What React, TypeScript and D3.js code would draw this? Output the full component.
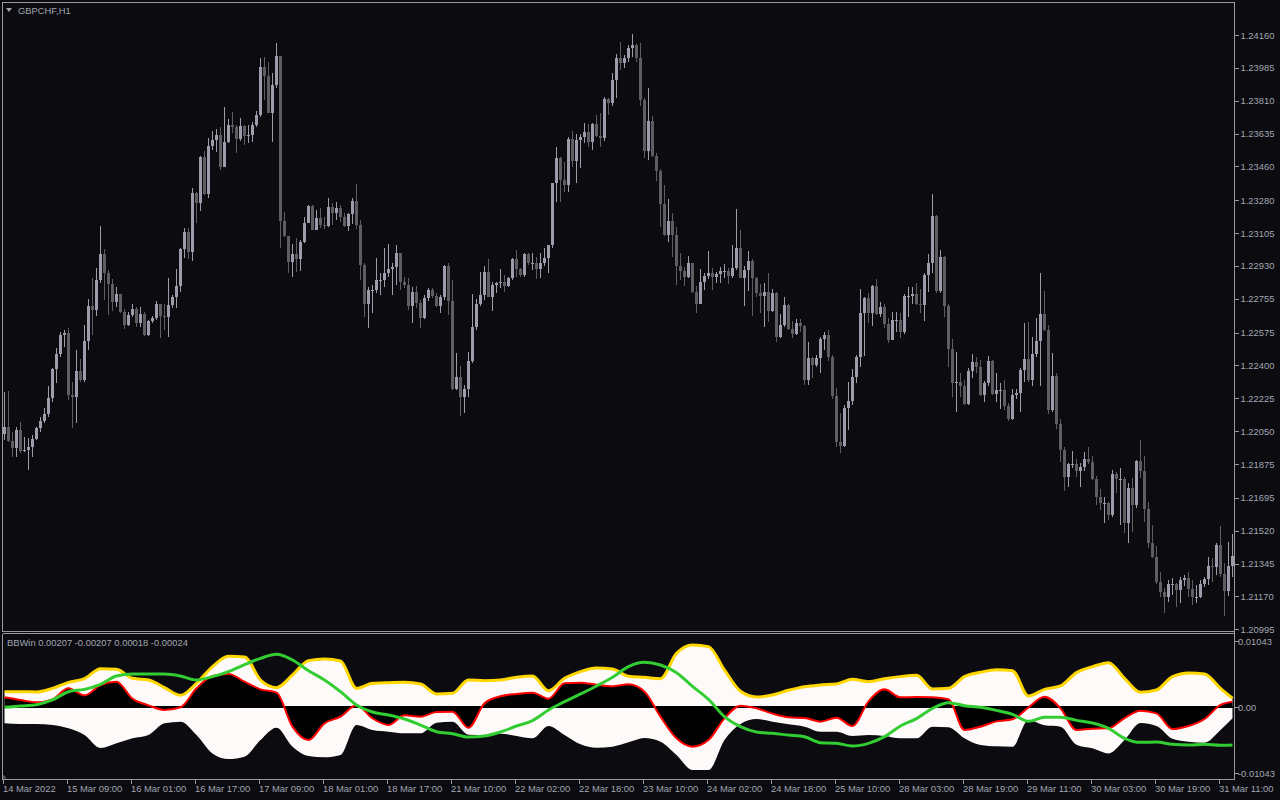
import React from 'react';
import * as d3 from 'd3';

// ---------------- DATA ----------------
const symbolTitle = 'GBPCHF,H1';
const indicatorTitle = 'BBWin 0.00207 -0.00207 0.00018 -0.00024';

const firstOpen = 1.22035;

const close = [
  1.22072, 1.21998, 1.21960, 1.22056, 1.21945, 1.21950, 1.21966, 1.22008, 1.22067, 1.22104,
  1.22141, 1.22226, 1.22381, 1.22460, 1.22561, 1.22572, 1.22242, 1.22231, 1.22370, 1.22322,
  1.22530, 1.22716, 1.22695, 1.22855, 1.22993, 1.22892, 1.22834, 1.22737, 1.22780, 1.22684,
  1.22615, 1.22668, 1.22700, 1.22625, 1.22673, 1.22561, 1.22636, 1.22652, 1.22727, 1.22663,
  1.22657, 1.22721, 1.22764, 1.22823, 1.23020, 1.23110, 1.23004, 1.23318, 1.23265, 1.23510,
  1.23312, 1.23568, 1.23600, 1.23626, 1.23456, 1.23589, 1.23680, 1.23669, 1.23605, 1.23674,
  1.23621, 1.23626, 1.23680, 1.23733, 1.23989, 1.23941, 1.23744, 1.23893, 1.24048, 1.23169,
  1.23089, 1.22951, 1.22993, 1.22967, 1.23057, 1.23158, 1.23249, 1.23121, 1.23185, 1.23148,
  1.23142, 1.23244, 1.23212, 1.23238, 1.23190, 1.23142, 1.23206, 1.23276, 1.23148, 1.22935,
  1.22727, 1.22802, 1.22802, 1.22855, 1.22855, 1.22892, 1.22914, 1.22924, 1.22999, 1.22844,
  1.22828, 1.22716, 1.22791, 1.22732, 1.22652, 1.22759, 1.22802, 1.22770, 1.22716, 1.22764,
  1.22930, 1.22743, 1.22274, 1.22338, 1.22231, 1.22274, 1.22423, 1.22604, 1.22727, 1.22775,
  1.22897, 1.22764, 1.22828, 1.22839, 1.22844, 1.22823, 1.22866, 1.22967, 1.22914, 1.22882,
  1.22993, 1.22946, 1.22946, 1.22914, 1.22946, 1.22972, 1.23041, 1.23371, 1.23504, 1.23387,
  1.23360, 1.23605, 1.23488, 1.23600, 1.23616, 1.23642, 1.23589, 1.23685, 1.23621, 1.23611,
  1.23819, 1.23797, 1.23920, 1.24037, 1.24011, 1.24037, 1.24090, 1.24106, 1.24037, 1.23813,
  1.23542, 1.23701, 1.23515, 1.23435, 1.23260, 1.23094, 1.23169, 1.23094, 1.22930, 1.22903,
  1.22871, 1.22946, 1.22791, 1.22727, 1.22844, 1.22876, 1.22892, 1.22871, 1.22887, 1.22903,
  1.22903, 1.22876, 1.22919, 1.23025, 1.22866, 1.22908, 1.22956, 1.22866, 1.22786, 1.22770,
  1.22791, 1.22689, 1.22786, 1.22551, 1.22615, 1.22721, 1.22593, 1.22567, 1.22625, 1.22609,
  1.22322, 1.22439, 1.22402, 1.22439, 1.22540, 1.22561, 1.22445, 1.22237, 1.21992, 1.21971,
  1.22173, 1.22211, 1.22338, 1.22445, 1.22679, 1.22759, 1.22679, 1.22823, 1.22673, 1.22711,
  1.22620, 1.22535, 1.22641, 1.22641, 1.22577, 1.22770, 1.22770, 1.22780, 1.22727, 1.22721,
  1.22882, 1.22946, 1.23196, 1.22797, 1.22978, 1.22716, 1.22487, 1.22306, 1.22311, 1.22290,
  1.22195, 1.22370, 1.22418, 1.22391, 1.22242, 1.22306, 1.22423, 1.22247, 1.22269, 1.22269,
  1.22184, 1.22115, 1.22242, 1.22253, 1.22375, 1.22434, 1.22322, 1.22460, 1.22530, 1.22673,
  1.22588, 1.22163, 1.22343, 1.22088, 1.21950, 1.21806, 1.21875, 1.21875, 1.21838, 1.21859,
  1.21902, 1.21886, 1.21795, 1.21699, 1.21667, 1.21667, 1.21603, 1.21822, 1.21795, 1.21795,
  1.21560, 1.21747, 1.21656, 1.21891, 1.21838, 1.21635, 1.21454, 1.21380, 1.21246, 1.21193,
  1.21166, 1.21236, 1.21236, 1.21204, 1.21257, 1.21268, 1.21209, 1.21166, 1.21166, 1.21236,
  1.21262, 1.21332, 1.21326, 1.21443, 1.21289, 1.21199, 1.21332, 1.21385,
];

const high = [
  1.22258, 1.22264, 1.22045, 1.22072, 1.22099, 1.22019, 1.22014, 1.22029, 1.22072, 1.22125,
  1.22173, 1.22290, 1.22386, 1.22492, 1.22577, 1.22588, 1.22599, 1.22311, 1.22482, 1.22434,
  1.22615, 1.22754, 1.22866, 1.22919, 1.23142, 1.23020, 1.22908, 1.22860, 1.22818, 1.22780,
  1.22700, 1.22684, 1.22727, 1.22711, 1.22711, 1.22684, 1.22641, 1.22663, 1.22743, 1.22721,
  1.22727, 1.22866, 1.22775, 1.22914, 1.23025, 1.23132, 1.23132, 1.23344, 1.23323, 1.23515,
  1.23542, 1.23611, 1.23648, 1.23658, 1.23669, 1.23776, 1.23712, 1.23749, 1.23680, 1.23717,
  1.23680, 1.23680, 1.23696, 1.23754, 1.24037, 1.24043, 1.24016, 1.23957, 1.24117, 1.24043,
  1.23217, 1.23084, 1.23047, 1.23079, 1.23068, 1.23190, 1.23254, 1.23254, 1.23228, 1.23238,
  1.23190, 1.23291, 1.23265, 1.23270, 1.23254, 1.23212, 1.23212, 1.23291, 1.23366, 1.23174,
  1.22946, 1.22818, 1.22828, 1.22972, 1.22892, 1.23025, 1.23047, 1.22946, 1.23041, 1.22999,
  1.22871, 1.22866, 1.22818, 1.22823, 1.22748, 1.22775, 1.22812, 1.22812, 1.22786, 1.22775,
  1.22935, 1.22946, 1.22855, 1.22466, 1.22397, 1.22295, 1.22471, 1.22780, 1.22754, 1.22897,
  1.22930, 1.22967, 1.22844, 1.22844, 1.22914, 1.22882, 1.22871, 1.22972, 1.23015, 1.22919,
  1.22999, 1.22999, 1.22999, 1.22978, 1.22999, 1.23025, 1.23041, 1.23371, 1.23563, 1.23510,
  1.23483, 1.23616, 1.23648, 1.23632, 1.23632, 1.23690, 1.23685, 1.23690, 1.23733, 1.23744,
  1.23829, 1.23824, 1.23957, 1.24058, 1.24122, 1.24053, 1.24106, 1.24165, 1.24112, 1.24117,
  1.23824, 1.23877, 1.23728, 1.23531, 1.23446, 1.23360, 1.23286, 1.23212, 1.23137, 1.22999,
  1.22924, 1.22983, 1.22946, 1.22823, 1.22914, 1.22892, 1.23010, 1.22919, 1.22897, 1.22924,
  1.22940, 1.22919, 1.23041, 1.23233, 1.23121, 1.22930, 1.23010, 1.22967, 1.22871, 1.22834,
  1.22839, 1.22892, 1.22807, 1.22791, 1.22673, 1.22764, 1.22727, 1.22636, 1.22647, 1.22647,
  1.22615, 1.22524, 1.22445, 1.22455, 1.22551, 1.22577, 1.22588, 1.22455, 1.22279, 1.22147,
  1.22189, 1.22311, 1.22381, 1.22455, 1.22807, 1.22764, 1.22786, 1.22828, 1.22860, 1.22737,
  1.22727, 1.22652, 1.22684, 1.22684, 1.22679, 1.22780, 1.22818, 1.22818, 1.22839, 1.22807,
  1.22892, 1.22993, 1.23312, 1.23201, 1.23015, 1.22983, 1.22727, 1.22540, 1.22471, 1.22359,
  1.22322, 1.22386, 1.22460, 1.22445, 1.22428, 1.22317, 1.22450, 1.22428, 1.22359, 1.22306,
  1.22322, 1.22200, 1.22274, 1.22274, 1.22386, 1.22625, 1.22631, 1.22551, 1.22652, 1.22892,
  1.22797, 1.22615, 1.22466, 1.22359, 1.22115, 1.21966, 1.21880, 1.21945, 1.21902, 1.21880,
  1.21939, 1.21966, 1.21918, 1.21811, 1.21742, 1.21699, 1.21672, 1.21843, 1.21832, 1.21854,
  1.21806, 1.21774, 1.21801, 1.21896, 1.22003, 1.21918, 1.21672, 1.21550, 1.21438, 1.21299,
  1.21214, 1.21257, 1.21268, 1.21241, 1.21273, 1.21284, 1.21299, 1.21257, 1.21230, 1.21257,
  1.21273, 1.21380, 1.21374, 1.21454, 1.21544, 1.21348, 1.21459, 1.21502,
];

const low = [
  1.22003, 1.21992, 1.21913, 1.21913, 1.21934, 1.21939, 1.21843, 1.21913, 1.22003, 1.22045,
  1.22093, 1.22125, 1.22205, 1.22306, 1.22445, 1.22498, 1.22216, 1.22067, 1.22093, 1.22311,
  1.22311, 1.22482, 1.22561, 1.22663, 1.22839, 1.22748, 1.22668, 1.22689, 1.22711, 1.22679,
  1.22593, 1.22609, 1.22657, 1.22604, 1.22604, 1.22556, 1.22556, 1.22625, 1.22641, 1.22546,
  1.22588, 1.22551, 1.22705, 1.22705, 1.22791, 1.22972, 1.22967, 1.22956, 1.23158, 1.23222,
  1.23307, 1.23291, 1.23547, 1.23536, 1.23440, 1.23467, 1.23584, 1.23637, 1.23531, 1.23595,
  1.23573, 1.23584, 1.23589, 1.23669, 1.23722, 1.23813, 1.23744, 1.23589, 1.23877, 1.23025,
  1.23084, 1.22892, 1.22871, 1.22897, 1.22903, 1.23052, 1.23158, 1.23121, 1.23121, 1.23132,
  1.23126, 1.23137, 1.23148, 1.23174, 1.23164, 1.23137, 1.23116, 1.23153, 1.23126, 1.22855,
  1.22657, 1.22599, 1.22679, 1.22786, 1.22775, 1.22818, 1.22871, 1.22775, 1.22828, 1.22802,
  1.22812, 1.22695, 1.22625, 1.22705, 1.22599, 1.22647, 1.22743, 1.22759, 1.22711, 1.22679,
  1.22748, 1.22668, 1.22269, 1.22269, 1.22131, 1.22147, 1.22231, 1.22413, 1.22588, 1.22716,
  1.22748, 1.22764, 1.22689, 1.22786, 1.22812, 1.22791, 1.22818, 1.22855, 1.22871, 1.22871,
  1.22871, 1.22935, 1.22908, 1.22860, 1.22866, 1.22930, 1.22892, 1.23025, 1.23270, 1.23270,
  1.23323, 1.23323, 1.23456, 1.23371, 1.23451, 1.23584, 1.23563, 1.23547, 1.23616, 1.23563,
  1.23595, 1.23733, 1.23781, 1.23824, 1.23973, 1.23984, 1.24016, 1.24043, 1.24016, 1.23781,
  1.23504, 1.23493, 1.23510, 1.23382, 1.23137, 1.23089, 1.23057, 1.22978, 1.22828, 1.22855,
  1.22823, 1.22866, 1.22786, 1.22679, 1.22786, 1.22802, 1.22860, 1.22802, 1.22839, 1.22839,
  1.22866, 1.22834, 1.22866, 1.22908, 1.22866, 1.22716, 1.22797, 1.22663, 1.22764, 1.22679,
  1.22604, 1.22631, 1.22684, 1.22524, 1.22546, 1.22604, 1.22588, 1.22546, 1.22561, 1.22577,
  1.22295, 1.22295, 1.22333, 1.22391, 1.22359, 1.22482, 1.22423, 1.22221, 1.21966, 1.21934,
  1.21966, 1.22056, 1.22189, 1.22306, 1.22391, 1.22450, 1.22625, 1.22609, 1.22668, 1.22657,
  1.22599, 1.22519, 1.22567, 1.22577, 1.22546, 1.22567, 1.22657, 1.22727, 1.22721, 1.22679,
  1.22636, 1.22791, 1.22892, 1.22786, 1.22786, 1.22657, 1.22391, 1.22231, 1.22152, 1.22231,
  1.22189, 1.22189, 1.22333, 1.22359, 1.22237, 1.22205, 1.22290, 1.22242, 1.22205, 1.22168,
  1.22163, 1.22104, 1.22109, 1.22221, 1.22152, 1.22311, 1.22311, 1.22290, 1.22445, 1.22290,
  1.22583, 1.22141, 1.22152, 1.22061, 1.21886, 1.21732, 1.21753, 1.21854, 1.21806, 1.21753,
  1.21838, 1.21875, 1.21790, 1.21656, 1.21630, 1.21560, 1.21576, 1.21592, 1.21721, 1.21550,
  1.21507, 1.21454, 1.21512, 1.21640, 1.21801, 1.21566, 1.21427, 1.21374, 1.21236, 1.21166,
  1.21081, 1.21139, 1.21177, 1.21113, 1.21134, 1.21225, 1.21166, 1.21123, 1.21134, 1.21161,
  1.21220, 1.21230, 1.21246, 1.21284, 1.21273, 1.21065, 1.21172, 1.21273,
];

const priceTicks = [
  1.24160, 1.23985, 1.23810, 1.23635, 1.23460, 1.23280, 1.23105, 1.22930, 1.22755, 1.22575,
  1.22400, 1.22225, 1.22050, 1.21875, 1.21695, 1.21520, 1.21345, 1.21170, 1.20995,
];
const priceMin = 1.20995;
const priceMax = 1.24160;

const timeLabels = [
  '14 Mar 2022', '15 Mar 09:00', '16 Mar 01:00', '16 Mar 17:00', '17 Mar 09:00',
  '18 Mar 01:00', '18 Mar 17:00', '21 Mar 10:00', '22 Mar 02:00', '22 Mar 18:00',
  '23 Mar 10:00', '24 Mar 02:00', '24 Mar 18:00', '25 Mar 10:00', '28 Mar 03:00',
  '28 Mar 19:00', '29 Mar 11:00', '30 Mar 03:00', '30 Mar 19:00', '31 Mar 11:00',
];
const barsPerTimeLabel = 16;

// indicator (sampled every 4 bars, last sample on the final bar)
const indicatorStep = 4;
const indUpper = [
  0.00242, 0.00242, 0.00237, 0.00295, 0.00390, 0.00448, 0.00606, 0.00596, 0.00453, 0.00427,
  0.00306, 0.00184, 0.00374, 0.00638, 0.00801, 0.00791, 0.00427, 0.00306, 0.00506, 0.00733,
  0.00759, 0.00727, 0.00295, 0.00374, 0.00385, 0.00390, 0.00364, 0.00206, 0.00216, 0.00427,
  0.00416, 0.00427, 0.00469, 0.00490, 0.00258, 0.00453, 0.00559, 0.00617, 0.00601, 0.00485,
  0.00469, 0.00448, 0.00848, 0.00980, 0.00954, 0.00585, 0.00248, 0.00158, 0.00190, 0.00264,
  0.00321, 0.00348, 0.00364, 0.00437, 0.00401, 0.00448, 0.00480, 0.00501, 0.00285, 0.00295,
  0.00480, 0.00548, 0.00590, 0.00574, 0.00174, 0.00279, 0.00332, 0.00543, 0.00638, 0.00701,
  0.00453, 0.00232, 0.00269, 0.00480, 0.00538, 0.00522, 0.00295, 0.00137,
];
const indLower = [
  -0.00258, -0.00269, -0.00269, -0.00285, -0.00337, -0.00443, -0.00648, -0.00574, -0.00495, -0.00443,
  -0.00258, -0.00232, -0.00443, -0.00733, -0.00822, -0.00785, -0.00522, -0.00327, -0.00627, -0.00775,
  -0.00796, -0.00759, -0.00285, -0.00364, -0.00390, -0.00416, -0.00416, -0.00248, -0.00232, -0.00437,
  -0.00443, -0.00422, -0.00458, -0.00495, -0.00300, -0.00443, -0.00590, -0.00643, -0.00627, -0.00559,
  -0.00490, -0.00548, -0.00759, -0.00996, -0.00996, -0.00522, -0.00269, -0.00190, -0.00232, -0.00274,
  -0.00311, -0.00390, -0.00390, -0.00458, -0.00443, -0.00458, -0.00495, -0.00495, -0.00311, -0.00321,
  -0.00495, -0.00601, -0.00622, -0.00627, -0.00206, -0.00290, -0.00311, -0.00596, -0.00653, -0.00733,
  -0.00522, -0.00253, -0.00300, -0.00501, -0.00548, -0.00564, -0.00364, -0.00179,
];
const indRed = [
  0.00153, 0.00111, 0.00074, 0.00121, 0.00295, 0.00184, 0.00348, 0.00401, 0.00132, 0.00026,
  -0.00047, -0.00005, 0.00295, 0.00490, 0.00522, 0.00401, 0.00279, 0.00227, -0.00311, -0.00522,
  -0.00258, -0.00153, 0.00026, -0.00179, -0.00285, -0.00132, -0.00153, -0.00079, -0.00074, -0.00327,
  0.00058, 0.00169, 0.00206, 0.00227, 0.00132, 0.00374, 0.00385, 0.00353, 0.00327, 0.00358,
  0.00242, -0.00153, -0.00495, -0.00627, -0.00522, -0.00179, 0.00021, -0.00021, -0.00105, -0.00163,
  -0.00174, -0.00232, -0.00169, -0.00300, 0.00090, 0.00279, 0.00153, 0.00158, 0.00153, 0.00121,
  -0.00364, -0.00311, -0.00227, -0.00195, -0.00005, 0.00163, -0.00021, -0.00364, -0.00343, -0.00337,
  -0.00174, -0.00058, -0.00100, -0.00348, -0.00300, -0.00190, 0.00032, 0.00084,
];
const indGreen = [
  -0.00005, 0.00016, 0.00037, 0.00111, 0.00242, 0.00279, 0.00358, 0.00490, 0.00522, 0.00522,
  0.00522, 0.00490, 0.00427, 0.00480, 0.00559, 0.00669, 0.00769, 0.00833, 0.00743, 0.00574,
  0.00427, 0.00242, 0.00032, -0.00079, -0.00126, -0.00190, -0.00285, -0.00390, -0.00422, -0.00474,
  -0.00458, -0.00395, -0.00300, -0.00216, -0.00047, 0.00084, 0.00206, 0.00332, 0.00469, 0.00638,
  0.00706, 0.00664, 0.00543, 0.00327, 0.00121, -0.00153, -0.00311, -0.00395, -0.00416, -0.00443,
  -0.00469, -0.00564, -0.00574, -0.00617, -0.00574, -0.00469, -0.00300, -0.00184, -0.00021, 0.00069,
  0.00021, -0.00005, -0.00053, -0.00116, -0.00227, -0.00163, -0.00163, -0.00211, -0.00253, -0.00337,
  -0.00495, -0.00559, -0.00553, -0.00590, -0.00601, -0.00590, -0.00606, -0.00601,
];
const indRange = 0.01043;
const indTicks = [0.01043, 0, -0.01043];

// ---------------- STYLE ----------------
const BG = '#0b0b10';
const FRAME = '#9a9a9a';
const TEXT = '#a2a7b2';
const BULL = '#9c9caa';
const BEAR = '#5e5e62';
const FONT = "'Liberation Sans', Arial, sans-serif";
const FS = 9.4;

export default function App() {
  const n = close.length;
  const open = close.map((c, i) => (i === 0 ? firstOpen : close[i - 1]));

  const plotL = 2.5;
  const plotR = 1234.5;
  const mainTop = 2.5;
  const mainBot = 631.5;
  const indTop = 633.5;
  const indBot = 779.5;

  const x = d3.scaleLinear().domain([0, n - 1]).range([4.5, 4.5 + 4 * (n - 1)]);
  const y = d3.scaleLinear().domain([priceMin, priceMax]).range([629.3, 35]);
  const yi = d3.scaleLinear().domain([-indRange, indRange]).range([773, 641]);

  const indBars = d3.range(0, n - 3, indicatorStep).concat([n - 1]);
  const pts = indBars.map((b, k) => ({
    b,
    up: indUpper[k],
    lo: indLower[k],
    r: indRed[k],
    g: indGreen[k],
  }));

  const curve = d3.curveMonotoneX;
  const z = yi(0);
  const areaUp = d3.area<any>().x((d) => x(d.b)).y0(z).y1((d) => yi(d.up)).curve(curve);
  const areaLo = d3.area<any>().x((d) => x(d.b)).y0(z).y1((d) => yi(d.lo)).curve(curve);
  const areaRed = d3.area<any>().x((d) => x(d.b)).y0(z).y1((d) => yi(d.r)).curve(curve);
  const lineUp = d3.line<any>().x((d) => x(d.b)).y((d) => yi(d.up)).curve(curve);
  const lineRed = d3.line<any>().x((d) => x(d.b)).y((d) => yi(d.r)).curve(curve);
  const lineGreen = d3.line<any>().x((d) => x(d.b)).y((d) => yi(d.g)).curve(curve);

  const candles = close.map((c, i) => {
    const o = open[i];
    const bull = c >= o;
    const top = Math.round(y(Math.max(o, c)));
    const bot = Math.round(y(Math.min(o, c)));
    const hi = Math.round(y(Math.max(high[i], o, c)));
    const lo = Math.round(y(Math.min(low[i], o, c)));
    const cx = x(i);
    const col = bull ? BULL : BEAR;
    return (
      <g key={i}>
        <rect x={cx - 0.5} y={hi} width={1} height={Math.max(1, lo - hi)} fill={col} />
        <rect x={cx - 1.5} y={top} width={3} height={Math.max(1, bot - top)} fill={col} />
      </g>
    );
  });

  const timeIdx = timeLabels.map((_, k) => k * barsPerTimeLabel);

  return (
    <div style={{ position: 'fixed', left: 0, top: 0, width: 1280, height: 800, background: BG }}>
      <svg width={1280} height={800} style={{ display: 'block' }} fontFamily={FONT}>
        <rect x={0} y={0} width={1280} height={800} fill={BG} />
        <defs>
          <clipPath id="mainClip">
            <rect x={plotL} y={mainTop} width={plotR - plotL} height={mainBot - mainTop} />
          </clipPath>
          <clipPath id="indClip">
            <rect x={plotL + 0.5} y={indTop + 0.5} width={plotR - plotL - 1} height={indBot - indTop - 1} />
          </clipPath>
        </defs>

        {/* candles */}
        <g clipPath="url(#mainClip)" shapeRendering="crispEdges">{candles}</g>

        {/* indicator */}
        <g clipPath="url(#indClip)">
          <path d={areaUp(pts) || ''} fill="#FFFAFA" />
          <path d={areaLo(pts) || ''} fill="#FFFAFA" />
          <path d={areaRed(pts) || ''} fill="#000000" />
          <line x1={plotL} x2={plotR} y1={z} y2={z} stroke="#000" strokeWidth={2} />
          <path d={lineRed(pts) || ''} fill="none" stroke="#FF0000" strokeWidth={2} />
          <path d={lineUp(pts) || ''} fill="none" stroke="#FFD700" strokeWidth={3} />
          <path d={lineGreen(pts) || ''} fill="none" stroke="#32CD32" strokeWidth={3} />
        </g>

        {/* frames */}
        <g fill="none" stroke={FRAME} strokeWidth={1} shapeRendering="crispEdges">
          <path d={`M${plotL},${mainBot} V${mainTop} H${plotR} V${indBot}`} />
          <line x1={plotL} x2={plotR} y1={mainBot} y2={mainBot} />
          <path d={`M${plotL},${indTop} H${plotR}`} />
          <path d={`M${plotL},${indTop} V${indBot} H${plotR}`} />
        </g>

        {/* scroll marker */}
        <path d={`M3,${indBot - 5} L3,${indBot - 1} L7,${indBot - 1} Z`} fill="#5a5a66" />

        {/* title */}
        <path d="M6,8 L12,8 L9,12 Z" fill={TEXT} />
        <text x={18} y={14} fill={TEXT} fontSize={FS}>{symbolTitle}</text>
        <text x={7} y={646} fill={TEXT} fontSize={FS}>{indicatorTitle}</text>

        {/* price axis */}
        <g shapeRendering="crispEdges">
          {priceTicks.map((v) => (
            <line key={'pt' + v} x1={plotR} x2={plotR + 4} y1={Math.round(y(v)) + 0.5} y2={Math.round(y(v)) + 0.5} stroke={FRAME} />
          ))}
        </g>
        {priceTicks.map((v) => (
          <text key={'pl' + v} x={1240.5} y={y(v) + 3.5} fill={TEXT} fontSize={FS}>
            {v.toFixed(5)}
          </text>
        ))}

        {/* indicator axis */}
        <g shapeRendering="crispEdges">
          {indTicks.map((v) => (
            <line key={'it' + v} x1={plotR} x2={plotR + 4} y1={Math.round(yi(v)) + 0.5} y2={Math.round(yi(v)) + 0.5} stroke={FRAME} />
          ))}
        </g>
        {indTicks.map((v) => (
          <text key={'il' + v} x={1238} y={yi(v) + 3.5} fill={TEXT} fontSize={FS}>
            {v === 0 ? '0.00' : v.toFixed(5)}
          </text>
        ))}

        {/* time axis */}
        <g shapeRendering="crispEdges">
          {timeIdx.map((b) => (
            <line key={'tt' + b} x1={x(b) - 1} x2={x(b) - 1} y1={indBot} y2={indBot + 4} stroke={FRAME} />
          ))}
        </g>
        {timeIdx.map((b, k) => (
          <text key={'tl' + b} x={x(b) - 1.5} y={792} fill={TEXT} fontSize={FS}>
            {timeLabels[k]}
          </text>
        ))}
      </svg>
    </div>
  );
}
